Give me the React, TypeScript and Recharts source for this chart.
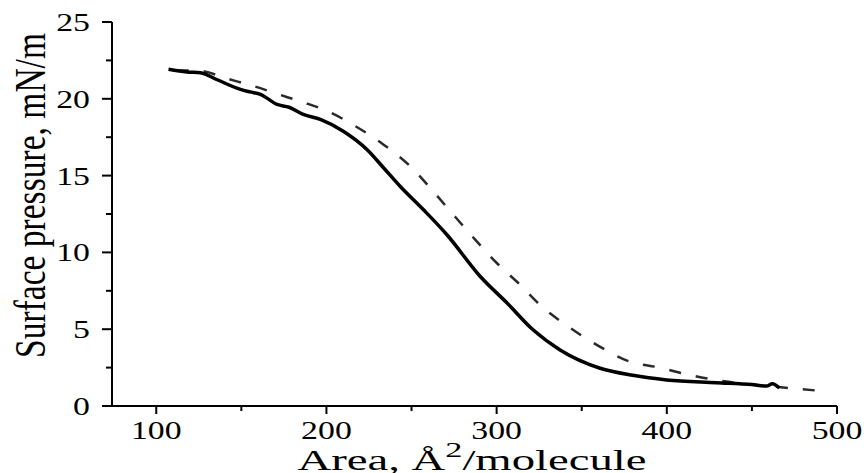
import React from 'react';
import { LineChart, Line, XAxis, YAxis } from 'recharts';

// Solid isotherm (Area, Å²/molecule vs surface pressure, mN/m)
const solidArea = [107.2, 118, 126, 135.8, 149.5, 155, 161.2, 171.0, 178, 186.4, 196.4, 209.9, 223.8, 233.4, 243.4, 256.9, 270.8, 290.4, 306.0, 321.4, 337.3, 360.8, 380, 399.9, 429.2, 450, 458.6, 462, 466.2];
const solidPressure = [21.92, 21.75, 21.70, 21.24, 20.61, 20.45, 20.29, 19.63, 19.45, 18.98, 18.66, 17.89, 16.70, 15.53, 14.29, 12.79, 11.15, 8.43, 6.72, 4.96, 3.65, 2.46, 2.0, 1.70, 1.52, 1.40, 1.30, 1.45, 1.17];

// Dashed isotherm
const dashedArea = [112, 126, 141.7, 157.1, 171.8, 186.4, 200.4, 217.0, 233.4, 249.2, 262.7, 274.5, 287.4, 300.1, 313.8, 326.5, 342.1, 358.8, 378.3, 394.8, 413.6, 435.1, 474.0, 495.7];
const dashedPressure = [21.85, 21.81, 21.31, 20.83, 20.29, 19.77, 19.20, 18.22, 17.03, 15.61, 13.98, 12.46, 10.83, 9.31, 7.89, 6.48, 5.17, 3.98, 2.89, 2.52, 2.02, 1.59, 1.15, 0.93];

const xTicks = [100, 150, 200, 250, 300, 350, 400, 450, 500];
const yTicks = [0, 2.5, 5, 7.5, 10, 12.5, 15, 17.5, 20, 22.5, 25];

const solidData = solidArea.map((a, i) => ({ area: a, p: solidPressure[i] }));
const dashedData = dashedArea.map((a, i) => ({ area: a, p: dashedPressure[i] }));

const FONT = '"Liberation Serif", "Times New Roman", serif';

const XTick = (props: any) => {
  const { x, y, payload } = props;
  const v = payload.value;
  const major = v % 100 === 0;
  return (
    <g>
      <line x1={x} x2={x} y1={y} y2={y + (major ? 8 : 5)} stroke="#000" strokeWidth={2} />
      {major && (
        <text
          transform={`translate(${x},${y + 33}) scale(1.3,1)`}
          textAnchor="middle"
          fontSize={26}
          fontFamily={FONT}
          fill="#000"
        >
          {v}
        </text>
      )}
    </g>
  );
};

const YTick = (props: any) => {
  const { x, y, payload } = props;
  const v = payload.value;
  const major = v % 5 === 0;
  return (
    <g>
      <line x1={x - (major ? 10 : 6)} x2={x} y1={y} y2={y} stroke="#000" strokeWidth={2} />
      {major && (
        <text
          transform={`translate(${x - 22},${y + 9}) scale(1.3,1)`}
          textAnchor="end"
          fontSize={26}
          fontFamily={FONT}
          fill="#000"
        >
          {v}
        </text>
      )}
    </g>
  );
};

const XLabel = () => (
  <text
    x={472}
    y={470}
    textAnchor="middle"
    fontSize={30}
    fontFamily={FONT}
    fill="#000"
    textLength={349}
    lengthAdjust="spacingAndGlyphs"
  >
    Area, Å<tspan dy={-13} fontSize={22}>2</tspan>
    <tspan dy={13}>/molecule</tspan>
  </text>
);

const YLabel = () => (
  <text
    transform="translate(45,195.5) scale(1.3,1) rotate(-90)"
    textAnchor="middle"
    fontSize={34}
    fontFamily={FONT}
    fill="#000"
    textLength={325}
    lengthAdjust="spacingAndGlyphs"
  >
    Surface pressure, mN/m
  </text>
);

export default function App() {
  return (
    <div style={{ position: 'absolute', left: 0, top: 0, width: 867, height: 473, background: '#fff' }}>
      <LineChart width={867} height={473} margin={{ top: 22, right: 30, bottom: 0, left: 0 }}>
        <XAxis
          type="number"
          dataKey="area"
          domain={[74, 500]}
          ticks={xTicks}
          interval={0}
          allowDataOverflow
          height={67}
          tickSize={0}
          tickMargin={0}
          tickLine={false}
          axisLine={{ stroke: '#000', strokeWidth: 2 }}
          tick={<XTick />}
          label={{ content: () => <XLabel /> }}
        />
        <YAxis
          type="number"
          dataKey="p"
          domain={[0, 25]}
          ticks={yTicks}
          interval={0}
          allowDataOverflow
          width={112}
          tickSize={0}
          tickMargin={0}
          tickLine={false}
          axisLine={{ stroke: '#000', strokeWidth: 2 }}
          tick={<YTick />}
          label={{ content: () => <YLabel /> }}
        />
        <Line
          data={dashedData}
          dataKey="p"
          type="monotone"
          stroke="#2a2a2a"
          strokeWidth={2.5}
          strokeDasharray="12 15"
          dot={false}
          isAnimationActive={false}
        />
        <Line
          data={solidData}
          dataKey="p"
          type="monotone"
          stroke="#000"
          strokeWidth={3.5}
          dot={false}
          isAnimationActive={false}
        />
      </LineChart>
    </div>
  );
}
